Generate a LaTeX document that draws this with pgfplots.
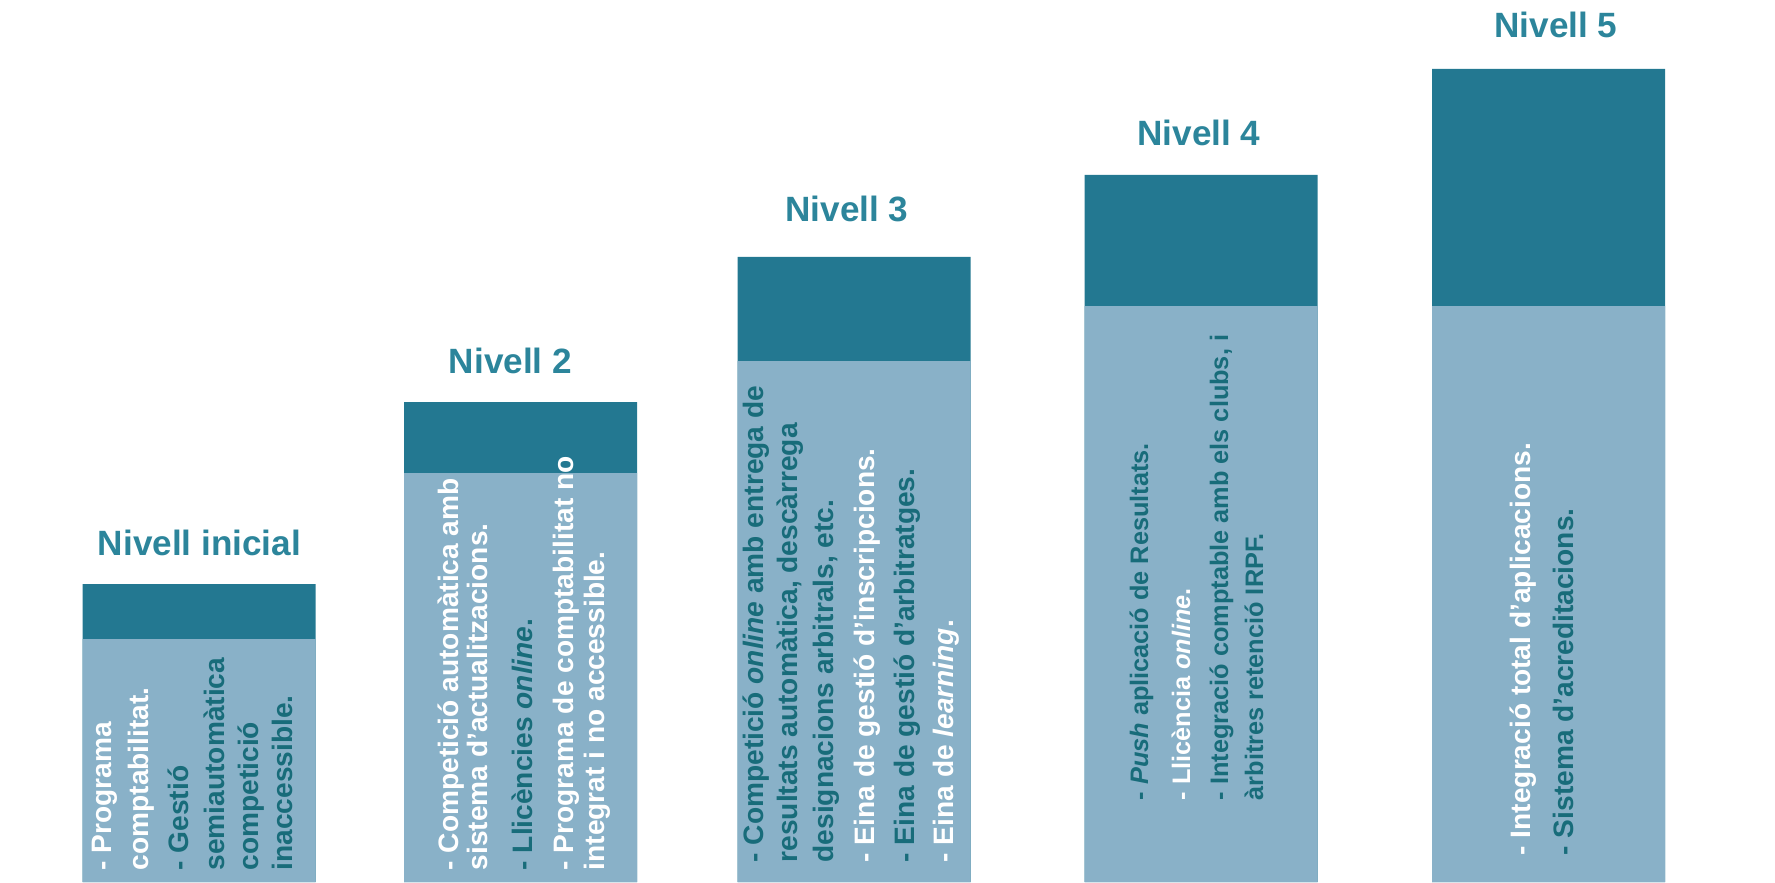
\documentclass[border=0pt]{standalone}
\usepackage{fontspec}
\setmainfont{Liberation Sans}
\usepackage{pgfplots}
\pgfplotsset{compat=1.18}

\definecolor{capblue}{RGB}{35,120,145}
\definecolor{barblue}{RGB}{137,177,200}
\definecolor{titleblue}{RGB}{44,133,155}
\definecolor{darktxt}{RGB}{24,108,122}

\tikzset{
    lvl/.style={font=\fontsize{10}{12}\selectfont\bfseries, text=titleblue, anchor=base, inner sep=0pt},
    ln/.style={rotate=90, anchor=base west, inner sep=0pt, font=\fontsize{8}{9.6}\selectfont\bfseries},
    lnsmall/.style={ln, font=\fontsize{7.2}{9}\selectfont\bfseries},
}

\begin{document}
\begin{tikzpicture}
\begin{axis}[
    scale only axis,
    width=17.75cm, height=8.82cm,
    xmin=0, xmax=1775, ymin=0, ymax=882,
    hide axis, clip=false,
    ybar, bar width=233, bar shift=0pt,
]
% dark cap = full height, light body drawn over it
\addplot[fill=capblue, draw=none] coordinates {
    (199,298) (520.5,480) (854,625) (1201,707) (1548.5,813)};
\addplot[fill=barblue, draw=none] coordinates {
    (199,243) (520.5,409) (854,521) (1201,576) (1548.5,576)};

% level titles
\node[lvl] at (axis cs:199.5,327) {Nivell inicial};
\node[lvl] at (axis cs:510.5,509) {Nivell 2};
\node[lvl] at (axis cs:847,660) {Nivell 3};
\node[lvl] at (axis cs:1199,736) {Nivell 4};
\node[lvl] at (axis cs:1556,844) {Nivell 5};

% Nivell inicial
\node[ln, text=white] at (axis cs:112,11) {- Programa};
\node[ln, text=white] at (axis cs:148,11) {comptabilitat.};
\node[ln, text=darktxt] at (axis cs:188,11) {- Gestió};
\node[ln, text=darktxt] at (axis cs:224,11) {semiautomàtica};
\node[ln, text=darktxt] at (axis cs:258,11) {competició};
\node[ln, text=darktxt] at (axis cs:292,11) {inaccessible.};

% Nivell 2
\node[ln, text=white] at (axis cs:458,11) {- Competició automàtica amb};
\node[ln, text=white] at (axis cs:487,11) {sistema d’actualitzacions.};
\node[ln, text=darktxt] at (axis cs:532,11) {- Llicències \textit{online}.};
\node[ln, text=white] at (axis cs:573,11) {- Programa de comptabilitat no};
\node[ln, text=white] at (axis cs:604,11) {integrat i no accessible.};

% Nivell 3
\node[ln, text=darktxt] at (axis cs:763,19) {- Competició \textit{online} amb entrega de};
\node[ln, text=darktxt] at (axis cs:797,19) {resultats automàtica, descàrrega};
\node[ln, text=darktxt] at (axis cs:833,19) {designacions arbitrals, etc.};
\node[ln, text=white] at (axis cs:874,19) {- Eina de gestió d’inscripcions.};
\node[ln, text=darktxt] at (axis cs:914,19) {- Eina de gestió d’arbitratges.};
\node[ln, text=white] at (axis cs:953,19) {- Eina de \textit{learning}.};

% Nivell 4
\node[lnsmall, text=darktxt] at (axis cs:1148,81) {- \textit{Push} aplicació de Resultats.};
\node[lnsmall, text=white] at (axis cs:1190,81) {- Llicència \textit{online}.};
\node[lnsmall, text=darktxt] at (axis cs:1228,81) {- Integració comptable amb els clubs, i};
\node[lnsmall, text=darktxt] at (axis cs:1263,81) {àrbitres retenció IRPF.};

% Nivell 5
\node[ln, text=white] at (axis cs:1530,26) {- Integració total d’aplicacions.};
\node[ln, text=darktxt] at (axis cs:1573,26) {- Sistema d’acreditacions.};
\end{axis}
\pgfresetboundingbox
\path[use as bounding box] (current axis.south west) rectangle (current axis.north east);
\end{tikzpicture}
\end{document}
